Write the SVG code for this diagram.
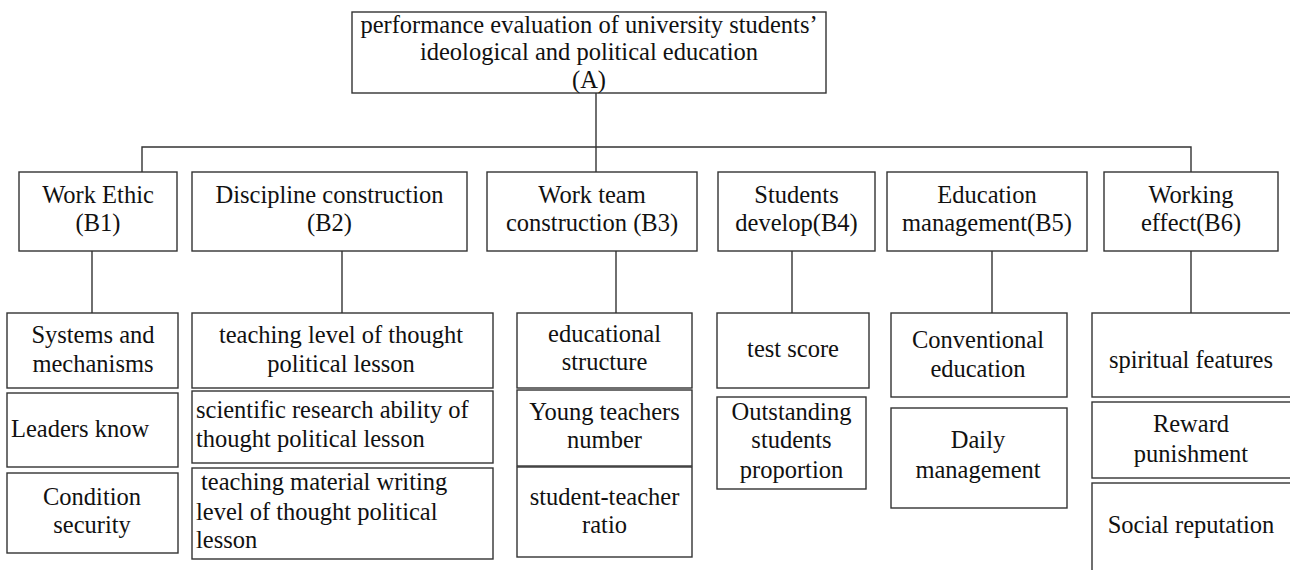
<svg xmlns="http://www.w3.org/2000/svg" width="1290" height="570" viewBox="0 0 1290 570">
  <style>
    .box { fill: #ffffff; stroke: #333333; stroke-width: 1.4; }
    .wire { fill: none; stroke: #333333; stroke-width: 1.4; }
    text { font-family: "Liberation Serif", "Times New Roman", serif; font-size: 24.5px; fill: #111111; }
    .c { text-anchor: middle; }
  </style>
  <rect x="0" y="0" width="1290" height="570" fill="#ffffff"/>

  <!-- connectors -->
  <g id="connectors">
    <path class="wire" d="M596,93 V172"/>
    <path class="wire" d="M142,172 V147 H1191 V172"/>
    <path class="wire" d="M92,251 V313"/>
    <path class="wire" d="M342,251 V313"/>
    <path class="wire" d="M616,251 V313"/>
    <path class="wire" d="M792,251 V313"/>
    <path class="wire" d="M992,251 V313"/>
    <path class="wire" d="M1191,251 V313"/>
  </g>

  <!-- root -->
  <g id="A">
    <rect class="box" x="352" y="12" width="474" height="81"/>
    <text class="c" x="589" y="33">performance evaluation of university students’</text>
    <text class="c" x="589" y="60">ideological and political education</text>
    <text class="c" x="589" y="88">(A)</text>
  </g>

  <!-- second level -->
  <g id="B1">
    <rect class="box" x="19" y="172" width="158" height="79"/>
    <text class="c" x="98" y="203">Work Ethic</text>
    <text class="c" x="98" y="231">(B1)</text>
  </g>
  <g id="B2">
    <rect class="box" x="192" y="172" width="275" height="79"/>
    <text class="c" x="329.5" y="203">Discipline construction</text>
    <text class="c" x="329.5" y="231">(B2)</text>
  </g>
  <g id="B3">
    <rect class="box" x="487" y="172" width="210" height="79"/>
    <text class="c" x="592" y="203">Work team</text>
    <text class="c" x="592" y="231">construction (B3)</text>
  </g>
  <g id="B4">
    <rect class="box" x="718" y="172" width="157" height="79"/>
    <text class="c" x="796.5" y="203">Students</text>
    <text class="c" x="796.5" y="231">develop(B4)</text>
  </g>
  <g id="B5">
    <rect class="box" x="887" y="172" width="200" height="79"/>
    <text class="c" x="987" y="203">Education</text>
    <text class="c" x="987" y="231">management(B5)</text>
  </g>
  <g id="B6">
    <rect class="box" x="1104" y="172" width="174" height="79"/>
    <text class="c" x="1191" y="203">Working</text>
    <text class="c" x="1191" y="231">effect(B6)</text>
  </g>

  <!-- third level: Work Ethic -->
  <g id="C11">
    <rect class="box" x="7" y="313" width="171" height="75"/>
    <text class="c" x="93" y="343">Systems and</text>
    <text class="c" x="93" y="372">mechanisms</text>
  </g>
  <g id="C12">
    <rect class="box" x="7" y="393" width="171" height="74"/>
    <text x="11" y="437">Leaders know</text>
  </g>
  <g id="C13">
    <rect class="box" x="7" y="473" width="171" height="80"/>
    <text class="c" x="92" y="505">Condition</text>
    <text class="c" x="92" y="533">security</text>
  </g>

  <!-- third level: Discipline construction -->
  <g id="C21">
    <rect class="box" x="192" y="313" width="301" height="75"/>
    <text class="c" x="341" y="343">teaching level of thought</text>
    <text class="c" x="341" y="372">political lesson</text>
  </g>
  <g id="C22">
    <rect class="box" x="192" y="391" width="301" height="72"/>
    <text x="196" y="418">scientific research ability of</text>
    <text x="196" y="447">thought political lesson</text>
  </g>
  <g id="C23">
    <rect class="box" x="192" y="468" width="301" height="91"/>
    <text x="201" y="490">teaching material writing</text>
    <text x="196" y="520">level of thought political</text>
    <text x="196" y="548">lesson</text>
  </g>

  <!-- third level: Work team construction -->
  <g id="C31">
    <rect class="box" x="517" y="313" width="175" height="75"/>
    <text class="c" x="604.5" y="342">educational</text>
    <text class="c" x="604.5" y="370">structure</text>
  </g>
  <g id="C32">
    <rect class="box" x="517" y="390" width="175" height="76"/>
    <text class="c" x="604.5" y="420">Young teachers</text>
    <text class="c" x="604.5" y="448">number</text>
  </g>
  <g id="C33">
    <rect class="box" x="517" y="467" width="175" height="90"/>
    <text class="c" x="604.5" y="505">student-teacher</text>
    <text class="c" x="604.5" y="533">ratio</text>
  </g>

  <!-- third level: Students develop -->
  <g id="C41">
    <rect class="box" x="717" y="313" width="152" height="75"/>
    <text class="c" x="793" y="357">test score</text>
  </g>
  <g id="C42">
    <rect class="box" x="717" y="397" width="149" height="92"/>
    <text class="c" x="791.5" y="420">Outstanding</text>
    <text class="c" x="791.5" y="448">students</text>
    <text class="c" x="791.5" y="478">proportion</text>
  </g>

  <!-- third level: Education management -->
  <g id="C51">
    <rect class="box" x="891" y="313" width="176" height="84"/>
    <text class="c" x="978" y="348">Conventional</text>
    <text class="c" x="978" y="377">education</text>
  </g>
  <g id="C52">
    <rect class="box" x="891" y="408" width="176" height="100"/>
    <text class="c" x="978" y="448">Daily</text>
    <text class="c" x="978" y="478">management</text>
  </g>

  <!-- third level: Working effect -->
  <g id="C61">
    <rect class="box" x="1092" y="313" width="220" height="84"/>
    <text class="c" x="1191" y="368">spiritual features</text>
  </g>
  <g id="C62">
    <rect class="box" x="1092" y="402" width="220" height="76"/>
    <text class="c" x="1191" y="432">Reward</text>
    <text class="c" x="1191" y="462">punishment</text>
  </g>
  <g id="C63">
    <rect class="box" x="1092" y="483" width="220" height="120"/>
    <text class="c" x="1191" y="533">Social reputation</text>
  </g>
</svg>
